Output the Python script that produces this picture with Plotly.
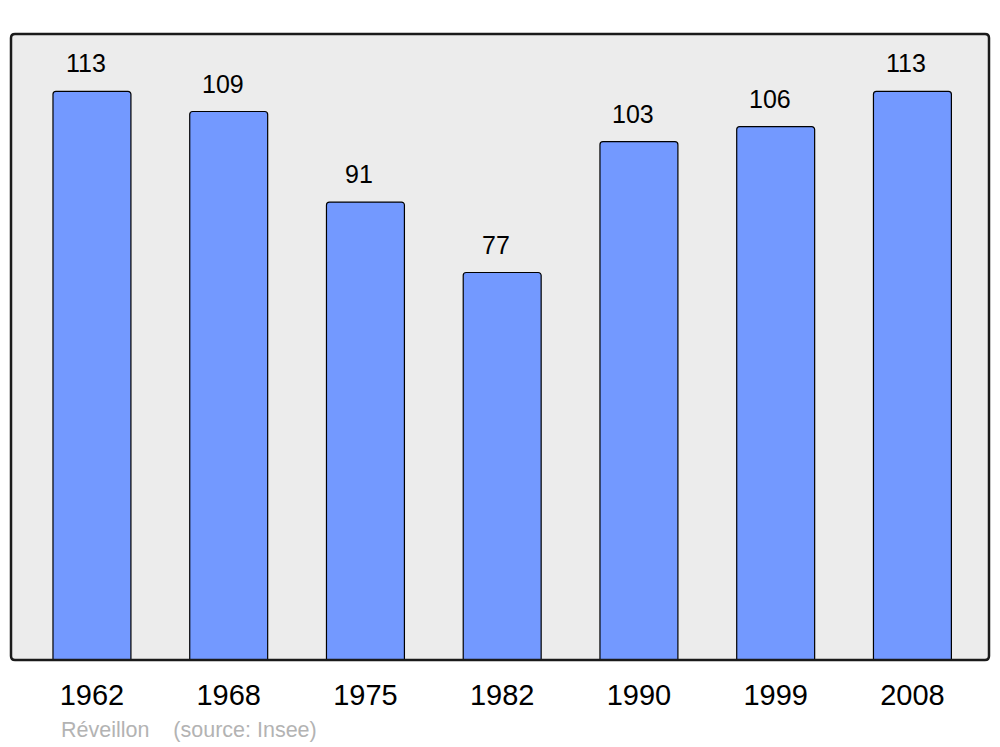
import plotly.graph_objects as go

years = ["1962", "1968", "1975", "1982", "1990", "1999", "2008"]
population = [113, 109, 91, 77, 103, 106, 113]
footer_text = "Réveillon    (source: Insee)"

W, H = 1000, 747
ml, mt = 11, 34
mr = W - 989
mb = H - 660
pw, ph = W - ml - mr, H - mt - mb

fig = go.Figure()
fig.add_trace(go.Bar(
    x=years, y=population, width=0.57,
    marker=dict(color="#7399ff", line=dict(color="#000000", width=1.2), cornerradius=3),
    hoverinfo="x+y",
))

for i, v in enumerate(population):
    fig.add_annotation(x=i, y=v, text=str(v), showarrow=False, yanchor="bottom",
                       yshift=12, xshift=-6,
                       font=dict(family="Liberation Sans, Arial", size=25, color="#000"))

fig.add_annotation(xref="paper", yref="paper", x=(59 - ml) / pw, y=-(730 - 660) / ph,
                   xanchor="left", yanchor="middle", text=footer_text, showarrow=False,
                   font=dict(family="Liberation Sans, Arial", size=21.5, color="#b3b3b3"))

# rounded frame around plot area
rx, ry = 4 / pw, 4 / ph
path = (f"M {rx},0 L {1-rx},0 Q 1,0 1,{ry} L 1,{1-ry} Q 1,1 {1-rx},1 "
        f"L {rx},1 Q 0,1 0,{1-ry} L 0,{ry} Q 0,0 {rx},0 Z")
fig.add_shape(type="path", xref="paper", yref="paper", path=path,
              line=dict(color="#1a1a1a", width=2.5), layer="above")

fig.update_layout(
    width=W, height=H,
    margin=dict(l=ml, r=mr, t=mt, b=mb, pad=0),
    paper_bgcolor="#ffffff", plot_bgcolor="#ececec",
    showlegend=False,
    xaxis=dict(type="category", range=[-0.592, 6.560], showgrid=False, zeroline=False,
               showline=False, ticks="outside", ticklen=9, tickcolor="rgba(0,0,0,0)",
               tickfont=dict(family="Liberation Sans, Arial", size=29, color="#000")),
    yaxis=dict(range=[0, 124.4], showgrid=False, zeroline=False, showline=False,
               showticklabels=False, ticks=""),
    font=dict(family="Liberation Sans, Arial"),
)

fig.write_html("out.html", config={"displayModeBar": False},
               post_script="document.body.style.margin='0px';document.body.style.overflow='hidden';")
